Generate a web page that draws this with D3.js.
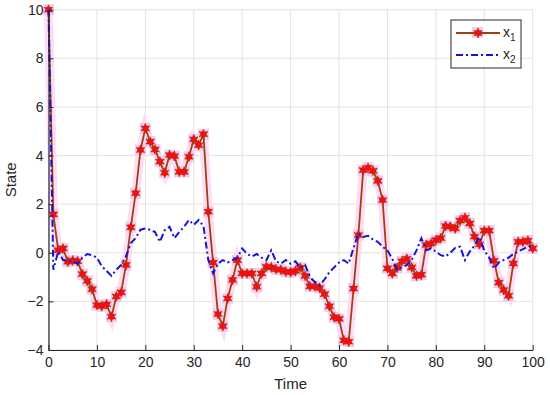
<!DOCTYPE html>
<html>
<head>
<meta charset="utf-8">
<script src="https://cdn.jsdelivr.net/npm/d3@7"></script>
<style>
  body { margin: 0; background: #fff; }
  text { font-family: "Liberation Sans", Arial, sans-serif; fill: #262626; }
</style>
</head>
<body>
<div id="main"></div>
<script>
// state trajectories, one value per time step 0..100
let x1Values = [10, 1.58, 0.11, 0.18, -0.37, -0.32, -0.35, -0.88, -1.16, -1.5,
  -2.15, -2.2, -2.12, -2.63, -1.8, -1.63, -0.5, 1.05, 2.45, 4.23,
  5.12, 4.57, 4.25, 3.75, 3.29, 4.02, 3.98, 3.33, 3.33, 3.95,
  4.67, 4.43, 4.88, 1.69, -0.41, -2.52, -3.02, -1.88, -1.12, -0.3,
  -0.85, -0.85, -0.85, -1.4, -0.85, -0.58, -0.6, -0.68, -0.7, -0.78,
  -0.8, -0.75, -0.62, -0.95, -1.38, -1.38, -1.45, -1.7, -2.2, -2.65,
  -2.72, -3.6, -3.66, -1.47, 0.73, 3.4, 3.5, 3.37, 2.96, 2.17,
  -0.64, -0.85, -0.62, -0.35, -0.25, -0.6, -0.95, -0.9, 0.32, 0.38,
  0.52, 0.6, 1.1, 1.07, 1.0, 1.32, 1.44, 1.21, 0.66, 0.35,
  0.91, 0.91, -0.33, -1.23, -1.53, -1.77, -0.44, 0.45, 0.45, 0.5,
  0.18];

let x2Values = [10, -0.7, 0.05, -0.3, -0.35, -0.35, -0.45, -0.2, -0.05, -0.1,
  -0.2, -0.55, -0.75, -0.95, -0.7, -0.5, -0.15, 0.4, 0.6, 0.95,
  1.0, 0.95, 0.85, 0.45, 0.93, 1.07, 0.6, 0.85, 1.07, 1.35,
  1.15, 1.35, 1.1, -0.3, -0.85, -0.45, -0.3, -0.4, -0.3, -0.2,
  0.18, -0.05, -0.15, -0.05, -0.2, -0.3, 0.1, -0.35, -0.45, -0.3,
  -0.45, -0.35, -0.6, -0.5, -1.0, -1.2, -1.35, -1.1, -0.8, -0.6,
  -0.4, -0.3, -0.45, 0.2, 0.8, 0.65, 0.7, 0.55, 0.45, 0.25,
  0.1, -0.25, -0.7, -0.6, -0.5, -0.3, 0.1, 0.6, 0.1, 0.18,
  0.05, -0.1, -0.15, 0.0, 0.2, 0.25, -0.3, 0.05, 0.3, 0.65,
  0.1, -0.2, -0.65, -0.4, -0.3, -0.2, -0.05, 0.05, 0.15, 0.25,
  0.3];

let xTicks = [0, 10, 20, 30, 40, 50, 60, 70, 80, 90, 100];
let yTicks = [-4, -2, 0, 2, 4, 6, 8, 10];
let seriesNames = ["1", "2"]; // subscripts of x

let width = 550;
let height = 395;
let plotLeft = 48.5, plotRight = 532.7, plotTop = 9.7, plotBottom = 350;

let svg = d3.select('#main')
  .append('svg')
  .attr('width', width)
  .attr('height', height);

let x = d3.scaleLinear().domain([0, 100]).range([plotLeft, plotRight]);
let y = d3.scaleLinear().domain([-4, 10]).range([plotBottom, plotTop]);

// grid
let grid = svg.append('g').attr('class', 'grid');
grid.selectAll('line.gx')
  .data(xTicks)
  .enter().append('line')
  .attr('x1', d => x(d)).attr('x2', d => x(d))
  .attr('y1', plotTop).attr('y2', plotBottom)
  .attr('stroke', '#e3e3e3').attr('stroke-width', 1);
grid.selectAll('line.gy')
  .data(yTicks)
  .enter().append('line')
  .attr('x1', plotLeft).attr('x2', plotRight)
  .attr('y1', d => y(d)).attr('y2', d => y(d))
  .attr('stroke', '#e3e3e3').attr('stroke-width', 1);

let line = d3.line()
  .x((d, i) => x(i))
  .y(d => y(d));

// pink halo under the x1 trace
svg.append('path')
  .datum(x1Values)
  .attr('d', line)
  .attr('fill', 'none')
  .attr('stroke', '#fcdcf6')
  .attr('stroke-width', 9);

svg.append('g')
  .selectAll('rect')
  .data(x1Values)
  .enter().append('rect')
  .attr('x', (d, i) => x(i) - 5.5)
  .attr('y', d => y(d) - 5.5)
  .attr('width', 11).attr('height', 11)
  .attr('fill', '#f9c8f1');

svg.append('path')
  .datum(x1Values)
  .attr('d', line)
  .attr('fill', 'none')
  .attr('stroke', '#a3400f')
  .attr('stroke-width', 1.8);

// asterisk markers
let outerStar = d3.symbol().type(d3.symbolAsterisk).size(70);
let innerStar = d3.symbol().type(d3.symbolAsterisk).size(34);
let markers = svg.append('g').attr('class', 'markers');
markers.selectAll('path.outer')
  .data(x1Values)
  .enter().append('path')
  .attr('class', 'outer')
  .attr('d', outerStar)
  .attr('transform', (d, i) => 'translate(' + x(i) + ',' + y(d) + ')')
  .attr('fill', 'none')
  .attr('stroke', '#6e5a14')
  .attr('stroke-width', 1.3);
markers.selectAll('path.inner')
  .data(x1Values)
  .enter().append('path')
  .attr('class', 'inner')
  .attr('d', innerStar)
  .attr('transform', (d, i) => 'translate(' + x(i) + ',' + y(d) + ')')
  .attr('fill', 'none')
  .attr('stroke', '#f01010')
  .attr('stroke-width', 2.6);

// x2 trace
svg.append('path')
  .datum(x2Values)
  .attr('d', line)
  .attr('fill', 'none')
  .attr('stroke', '#1414d8')
  .attr('stroke-width', 2)
  .attr('stroke-dasharray', '7,3,2,3');

// axes
let xAxis = svg.append('g')
  .attr('transform', 'translate(0,' + plotBottom + ')')
  .call(d3.axisBottom(x).tickValues(xTicks).tickSize(-5).tickPadding(7).tickSizeOuter(0));
let yAxis = svg.append('g')
  .attr('transform', 'translate(' + plotLeft + ',0)')
  .call(d3.axisLeft(y).tickValues(yTicks).tickSize(-5).tickPadding(5).tickSizeOuter(0));

[xAxis, yAxis].forEach(function(a) {
  a.select('.domain').attr('stroke', '#262626').attr('stroke-width', 1.2);
  a.selectAll('.tick line').attr('stroke', '#262626');
  a.selectAll('.tick text')
    .style('font-size', '14px')
    .style('font-family', '"Liberation Sans", Arial, sans-serif')
    .attr('fill', '#262626');
});
yAxis.selectAll('.tick text').text(d => d < 0 ? '\u2212' + Math.abs(d) : d);

// axis labels
svg.append('text')
  .attr('x', (plotLeft + plotRight) / 2)
  .attr('y', 389)
  .attr('text-anchor', 'middle')
  .style('font-size', '15px')
  .text('Time');

svg.append('text')
  .attr('transform', 'translate(16,' + ((plotTop + plotBottom) / 2) + ') rotate(-90)')
  .attr('text-anchor', 'middle')
  .style('font-size', '15px')
  .text('State');

// legend
let legend = svg.append('g').attr('transform', 'translate(451,20)');
legend.append('rect')
  .attr('width', 70).attr('height', 48)
  .attr('fill', '#fff')
  .attr('stroke', '#262626')
  .attr('stroke-width', 1);

legend.append('rect')
  .attr('x', 21).attr('y', 7).attr('width', 11).attr('height', 11)
  .attr('fill', '#f9c8f1');
legend.append('line')
  .attr('x1', 5).attr('x2', 49).attr('y1', 13).attr('y2', 13)
  .attr('stroke', '#a3400f').attr('stroke-width', 1.8);
legend.append('path')
  .attr('d', outerStar())
  .attr('transform', 'translate(27,13)')
  .attr('fill', 'none').attr('stroke', '#6e5a14').attr('stroke-width', 1.3);
legend.append('path')
  .attr('d', innerStar())
  .attr('transform', 'translate(27,13)')
  .attr('fill', 'none').attr('stroke', '#f01010').attr('stroke-width', 2.6);

legend.append('line')
  .attr('x1', 5).attr('x2', 49).attr('y1', 35).attr('y2', 35)
  .attr('stroke', '#1414d8').attr('stroke-width', 2)
  .attr('stroke-dasharray', '7,3,2,3');

legend.selectAll('text.lab')
  .data(seriesNames)
  .enter().append('text')
  .attr('class', 'lab')
  .attr('x', 52)
  .attr('y', (d, i) => 17 + i * 22)
  .style('font-size', '14px')
  .each(function(d) {
    let t = d3.select(this);
    t.append('tspan').text('x');
    t.append('tspan').attr('dy', 4).style('font-size', '10px').text(d);
  });
</script>
</body>
</html>
